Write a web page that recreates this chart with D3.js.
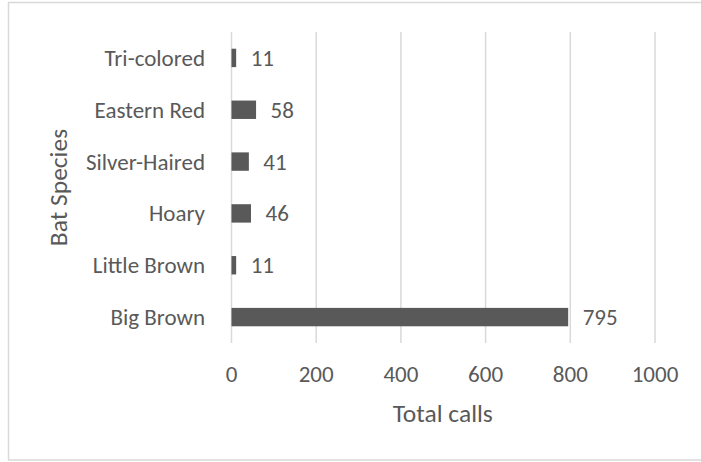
<!DOCTYPE html>
<html>
<head>
<meta charset="utf-8">
<script src="https://cdn.jsdelivr.net/npm/d3@7"></script>
<style>
  html, body { margin: 0; padding: 0; background: #ffffff; }
  svg { display: block; }
  text { font-family: Carlito, Lato, "Open Sans", sans-serif; fill: #595959; }
</style>
</head>
<body>
<svg id="chart" width="701" height="462"></svg>
<script>
// Bat call counts by species (top to bottom as drawn)
const species = ["Tri-colored", "Eastern Red", "Silver-Haired", "Hoary", "Little Brown", "Big Brown"];
const totalCalls = [11, 58, 41, 46, 11, 795];
const xTicks = [0, 200, 400, 600, 800, 1000];
const xTitle = "Total calls";
const yTitle = "Bat Species";

const svg = d3.select("#chart");
const W = 701, H = 462;
const plot = { left: 231, right: 654.5, top: 32, bottom: 343 };
const labelSize = 23, titleSize = 25.5;

const x = d3.scaleLinear().domain([0, 1000]).range([plot.left, plot.right]);
const y = d3.scaleBand().domain(species).range([plot.top, plot.bottom])
  .paddingInner(0.645).paddingOuter(0.3225);

// chart area frame
svg.append("rect")
  .attr("x", 8.5).attr("y", 2.5)
  .attr("width", W + 10).attr("height", 457.5)
  .attr("fill", "#ffffff")
  .attr("stroke", "#d9d9d9").attr("stroke-width", 1.5);

// vertical gridlines
const grid = svg.append("g")
  .attr("transform", `translate(0,${plot.bottom})`)
  .call(d3.axisBottom(x).tickValues(xTicks).tickSize(-(plot.bottom - plot.top)).tickFormat(""));
grid.select(".domain").remove();
grid.selectAll("line").attr("stroke", "#d9d9d9").attr("stroke-width", 1.5);

// bars
svg.append("g").selectAll("rect")
  .data(species)
  .join("rect")
  .attr("x", x(0) + 0.5)
  .attr("y", d => y(d))
  .attr("width", (d, i) => x(totalCalls[i]) - x(0))
  .attr("height", y.bandwidth())
  .attr("fill", "#595959");

// value labels
svg.append("g").selectAll("text")
  .data(species)
  .join("text")
  .attr("x", (d, i) => x(totalCalls[i]) + 15)
  .attr("y", d => y(d) + y.bandwidth() / 2 + 8)
  .attr("font-size", labelSize)
  .text((d, i) => totalCalls[i]);

// category axis
const yAxis = svg.append("g")
  .attr("transform", `translate(${plot.left - 26},0)`)
  .call(d3.axisLeft(y).tickSize(0).tickPadding(0));
yAxis.select(".domain").remove();
yAxis.selectAll("text")
  .attr("font-size", labelSize)
  .attr("dy", null)
  .attr("y", 8)
  .style("fill", "#595959");

// value axis
const xAxis = svg.append("g")
  .attr("transform", `translate(0,${plot.bottom})`)
  .call(d3.axisBottom(x).tickValues(xTicks).tickSize(0).tickFormat(d3.format("d")));
xAxis.select(".domain").remove();
xAxis.selectAll("text")
  .attr("font-size", labelSize)
  .attr("dy", null)
  .attr("y", 39)
  .style("fill", "#595959");

// axis titles
svg.append("text")
  .attr("x", (plot.left + plot.right) / 2)
  .attr("y", 421.5)
  .attr("text-anchor", "middle")
  .attr("font-size", titleSize)
  .text(xTitle);

svg.append("text")
  .attr("transform", `translate(67,${(plot.top + plot.bottom) / 2}) rotate(-90)`)
  .attr("text-anchor", "middle")
  .attr("font-size", titleSize)
  .text(yTitle);
</script>
</body>
</html>
